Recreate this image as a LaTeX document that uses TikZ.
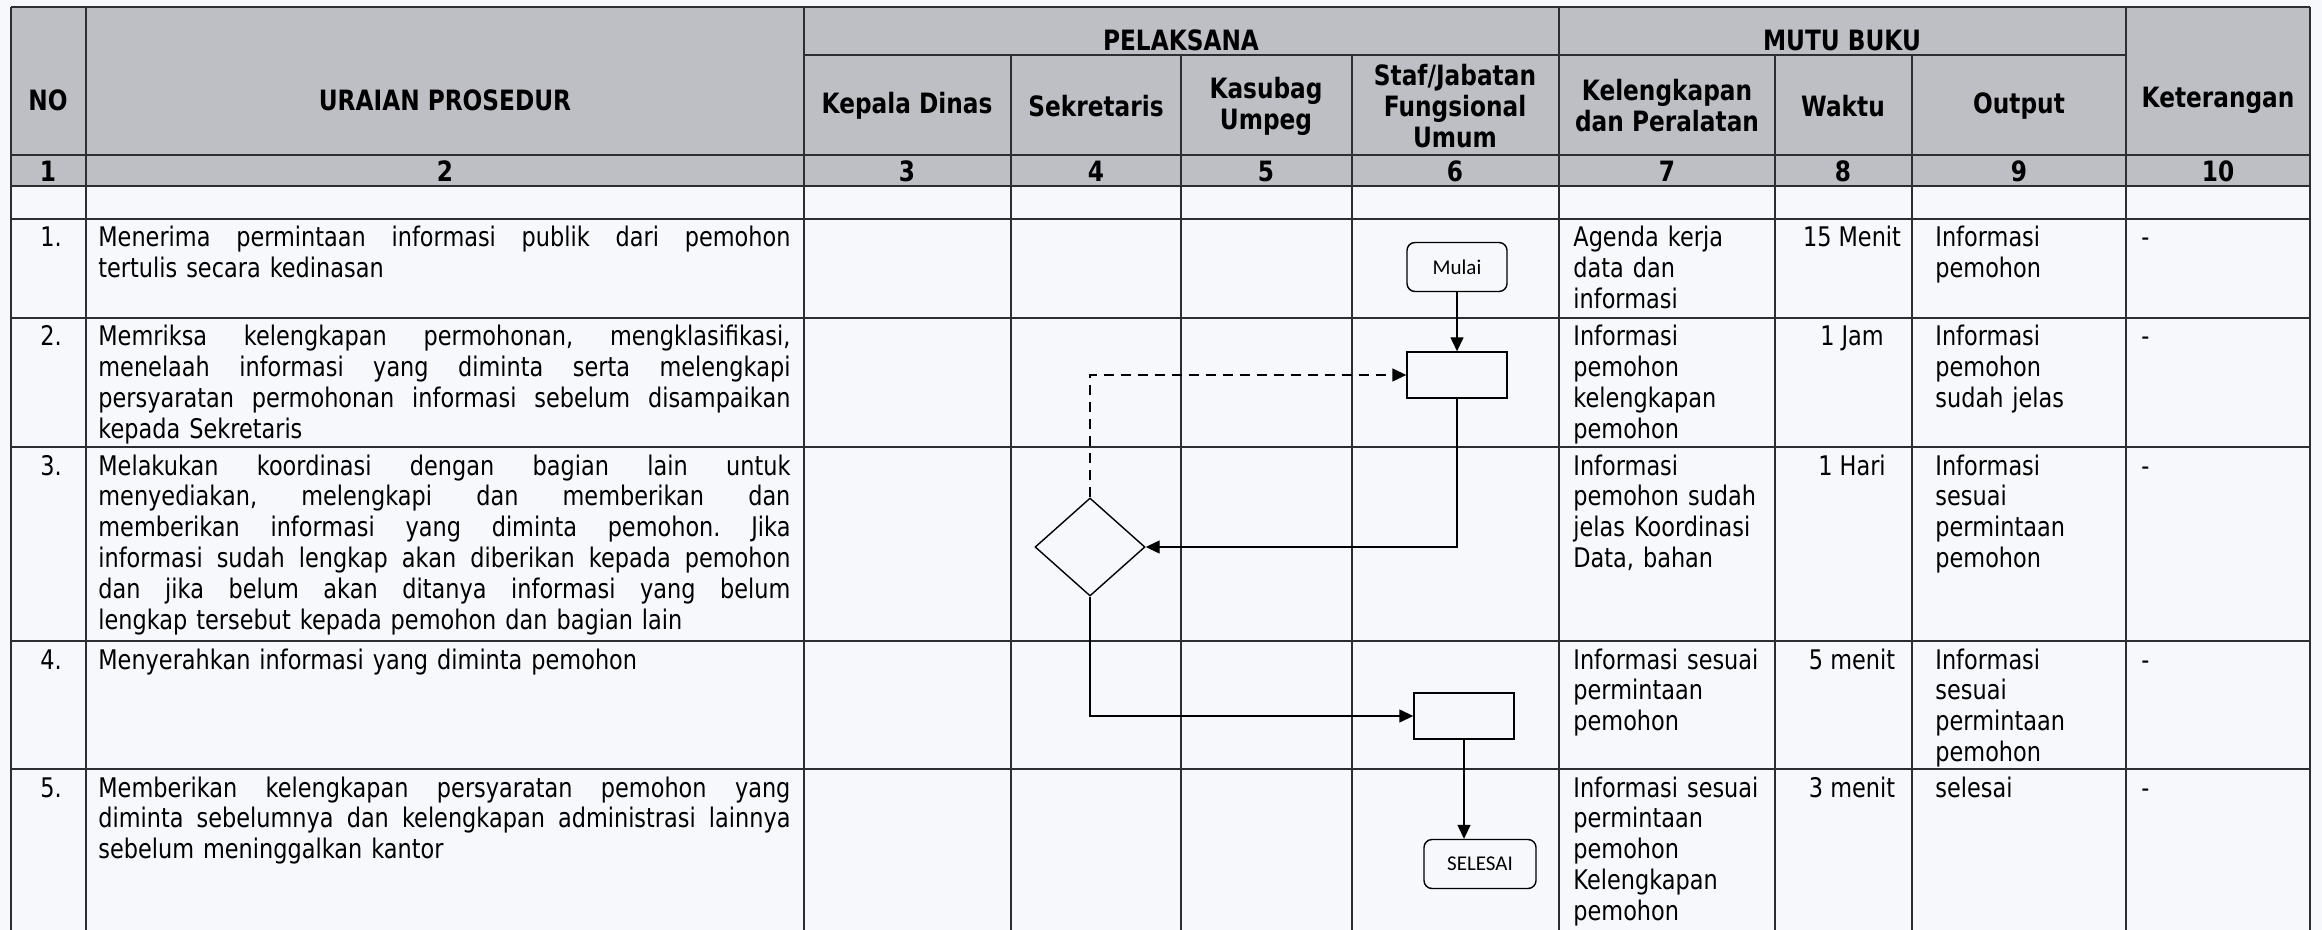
\documentclass[tikz,border=0pt]{standalone}
\usepackage{fontspec}
\setmainfont[FakeStretch=0.83]{DejaVu Sans}
\newfontfamily\flowfont{Carlito}
\usetikzlibrary{shapes.geometric,arrows.meta}
\definecolor{headgray}{RGB}{190,191,196}
\definecolor{paper}{RGB}{247,248,251}
\definecolor{rulecol}{RGB}{45,45,50}
\newlength{\uraianw}\setlength{\uraianw}{346pt}
\newcommand{\jl}[1]{\leavevmode\hbox to \uraianw{\frenchspacing\spaceskip=\fontdimen2\font plus 1fil\relax #1}}

\begin{document}
\begin{tikzpicture}[
		x=0.5pt, y=-0.5pt,
		tabline/.style={draw=rulecol, line width=0.6pt},
		head/.style={font=\fontsize{14}{15.5}\selectfont\bfseries, align=center, inner sep=0pt},
		cell/.style={anchor=base west, font=\fontsize{13.5}{15.4}\selectfont, align=left, inner sep=0pt},
		waktu/.style={anchor=base, font=\fontsize{13.5}{15.4}\selectfont, inner sep=0pt},
		terminal/.style={draw, rounded corners=4pt, minimum width=50pt, minimum height=24.5pt, inner sep=0pt, font=\flowfont\fontsize{10.5}{12}\selectfont, line width=0.7pt},
		process/.style={draw, minimum width=50pt, minimum height=23pt, inner sep=0pt, line width=0.7pt},
		decision/.style={draw, diamond, minimum width=55pt, minimum height=49pt, inner sep=0pt, line width=0.7pt},
		flow/.style={-{Triangle[length=7pt,width=6.5pt]}, line width=0.7pt}
	]
	\useasboundingbox (0,0) rectangle (2322,930);
	\fill[paper] (0,0) rectangle (2322,930);
	\fill[headgray] (11,7) rectangle (2310,186);

	% garis tabel
	\draw[tabline] (11,7) -- (2310,7) (11,155) -- (2310,155) (11,186) -- (2310,186)
		(11,219) -- (2310,219) (11,318) -- (2310,318) (11,447) -- (2310,447)
		(11,641) -- (2310,641) (11,769) -- (2310,769) (804,55) -- (2126,55);
	\draw[tabline] (11,7) -- (11,930) (86,7) -- (86,930) (804,7) -- (804,930)
		(1011,55) -- (1011,930) (1181,55) -- (1181,930) (1352,55) -- (1352,930)
		(1559,7) -- (1559,930) (1775,55) -- (1775,930) (1912,55) -- (1912,930)
		(2126,7) -- (2126,930) (2310,7) -- (2310,930);

	% kepala tabel
	\node[head] (hno) at (48,100) {NO};
	\node[head] (hur) at (445,100) {URAIAN PROSEDUR};
	\node[head] (hpel) at (1181,40) {PELAKSANA};
	\node[head] (hmutu) at (1842,40) {MUTU BUKU};
	\node[head] (hket) at (2218,100) {Keterangan};
	\node[head] (hkad) at (907,106) {Kepala Dinas};
	\node[head] (hsek) at (1096,106) {Sekretaris};
	\node[head] (hkas) at (1266,106) {Kasubag\\Umpeg};
	\node[head] (hstaf) at (1455,106) {Staf/Jabatan\\Fungsional\\Umum};
	\node[head] (hkel) at (1667,106) {Kelengkapan\\dan Peralatan};
	\node[head] (hwkt) at (1843,106) {Waktu};
	\node[head] (hout) at (2019,106) {Output};
	\node[head] (n1) at (48,171) {1};
	\node[head] (n2) at (445,171) {2};
	\node[head] (n3) at (907,171) {3};
	\node[head] (n4) at (1096,171) {4};
	\node[head] (n5) at (1266,171) {5};
	\node[head] (n6) at (1455,171) {6};
	\node[head] (n7) at (1667,171) {7};
	\node[head] (n8) at (1843,171) {8};
	\node[head] (n9) at (2019,171) {9};
	\node[head] (n10) at (2218,171) {10};

	% baris 1
	\node[cell] (no1) at (40,247) {1.};
	\node[cell, text width=346pt] (ur1) at (98,247) {\jl{Menerima permintaan informasi publik dari pemohon}\\tertulis secara kedinasan};
	\node[cell, text width=100pt] (kel1) at (1573,247) {Agenda kerja\\data dan\\informasi};
	\node[waktu] (wkt1) at (1852,247) {15 Menit};
	\node[cell, text width=95pt] (out1) at (1935,247) {Informasi\\pemohon};
	\node[cell] (ket1) at (2141,247) {-};

	% baris 2
	\node[cell] (no2) at (40,346) {2.};
	\node[cell, text width=346pt] (ur2) at (98,346) {\jl{Memriksa kelengkapan permohonan, mengklasifikasi,}\\\jl{menelaah informasi yang diminta serta melengkapi}\\\jl{persyaratan permohonan informasi sebelum disampaikan}\\kepada Sekretaris};
	\node[cell, text width=100pt] (kel2) at (1573,346) {Informasi\\pemohon\\kelengkapan\\pemohon};
	\node[waktu] (wkt2) at (1852,346) {1 Jam};
	\node[cell, text width=95pt] (out2) at (1935,346) {Informasi\\pemohon\\sudah jelas};
	\node[cell] (ket2) at (2141,346) {-};

	% baris 3
	\node[cell] (no3) at (40,475) {3.};
	\node[cell, text width=346pt] (ur3) at (98,475) {\jl{Melakukan koordinasi dengan bagian lain untuk}\\\jl{menyediakan, melengkapi dan memberikan dan}\\\jl{memberikan informasi yang diminta pemohon. Jika}\\\jl{informasi sudah lengkap akan diberikan kepada pemohon}\\\jl{dan jika belum akan ditanya informasi yang belum}\\lengkap tersebut kepada pemohon dan bagian lain};
	\node[cell, text width=100pt] (kel3) at (1573,475) {Informasi\\pemohon sudah\\jelas Koordinasi\\Data, bahan};
	\node[waktu] (wkt3) at (1852,475) {1 Hari};
	\node[cell, text width=95pt] (out3) at (1935,475) {Informasi\\sesuai\\permintaan\\pemohon};
	\node[cell] (ket3) at (2141,475) {-};

	% baris 4
	\node[cell] (no4) at (40,669) {4.};
	\node[cell, text width=346pt] (ur4) at (98,669) {Menyerahkan informasi yang diminta pemohon};
	\node[cell, text width=100pt] (kel4) at (1573,669) {Informasi sesuai\\permintaan\\pemohon};
	\node[waktu] (wkt4) at (1852,669) {5 menit};
	\node[cell, text width=95pt] (out4) at (1935,669) {Informasi\\sesuai\\permintaan\\pemohon};
	\node[cell] (ket4) at (2141,669) {-};

	% baris 5
	\node[cell] (no5) at (40,797) {5.};
	\node[cell, text width=346pt] (ur5) at (98,797) {\jl{Memberikan kelengkapan persyaratan pemohon yang}\\\jl{diminta sebelumnya dan kelengkapan administrasi lainnya}\\sebelum meninggalkan kantor};
	\node[cell, text width=100pt] (kel5) at (1573,797) {Informasi sesuai\\permintaan\\pemohon\\Kelengkapan\\pemohon};
	\node[waktu] (wkt5) at (1852,797) {3 menit};
	\node[cell, text width=95pt] (out5) at (1935,797) {selesai};
	\node[cell] (ket5) at (2141,797) {-};

	% bagan alir
	\node[terminal] (mulai) at (1457,267) {Mulai};
	\node[process] (periksa) at (1457,375) {};
	\node[decision] (cek) at (1090,547) {};
	\node[process] (serah) at (1464,716) {};
	\node[terminal, minimum width=56pt] (selesai) at (1480,864) {SELESAI};

	\draw[flow] (mulai) -- (periksa);
	\draw[flow] (periksa.south) |- (cek.east);
	\draw[flow, dash pattern=on 5pt off 3.5pt] (cek.north) |- (periksa.west);
	\draw[flow] (cek.south) |- (serah.west);
	\draw[flow] (serah.south) -- (serah.south |- selesai.north);
\end{tikzpicture}
\end{document}
